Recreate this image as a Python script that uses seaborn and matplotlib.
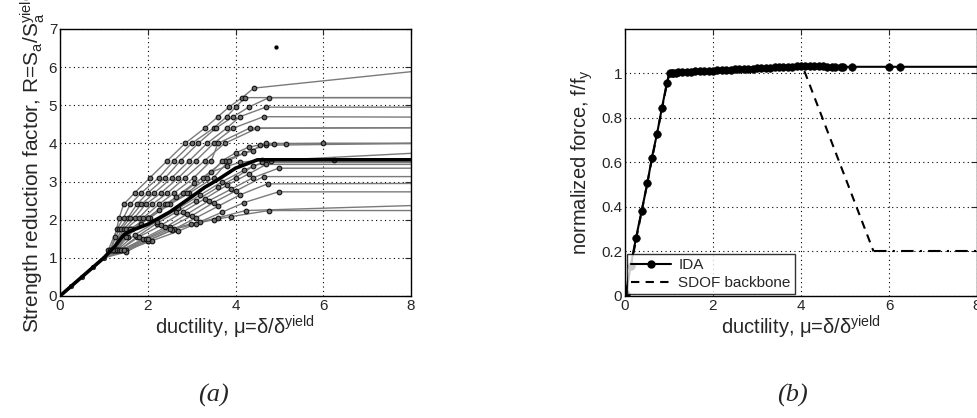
import numpy as np
import pandas as pd
import matplotlib
matplotlib.use("Agg")
import matplotlib.pyplot as plt
from matplotlib.lines import Line2D
import seaborn as sns

# ---- (a) IDA curves, strength reduction factor vs ductility ----
elastic_mu = [0.0, 0.25, 0.5, 0.75, 1.0]
elastic_R = [0.0, 0.25, 0.5, 0.75, 1.0]

ida_mu = [
    [1.15, 1.25, 1.35, 1.45, 1.7, 2.05, 2.45, 2.85, 3.3, 3.6, 3.85, 4.15, 4.42],
    [1.1, 1.3, 1.45, 1.6, 1.85, 2.25, 2.6, 3.0, 3.5, 3.8, 4.0, 4.22],
    [1.15, 1.35, 1.55, 1.75, 2.0, 2.4, 2.75, 3.15, 3.55, 3.95, 4.3, 4.76],
    [1.2, 1.4, 1.6, 1.85, 2.15, 2.55, 2.95, 3.35, 3.8, 4.1, 4.69],
    [1.2, 1.45, 1.7, 1.95, 2.3, 2.7, 3.1, 3.5, 3.95, 4.64],
    [1.25, 1.5, 1.8, 2.1, 2.45, 2.85, 3.3, 3.75, 4.5],
    [1.25, 1.55, 1.9, 2.25, 2.6, 3.05, 3.45, 3.6, 4.32],
    [1.3, 1.6, 2.0, 2.4, 2.8, 3.25, 3.75, 4.7, 4.88, 5.15, 6.0],
    [1.3, 1.65, 2.05, 2.5, 2.95, 3.5, 3.85, 4.2, 4.4, 4.55],
    [1.25, 1.6, 2.0, 2.45, 2.9, 3.35, 3.7, 4.0, 4.3, 4.7],
    [1.35, 1.75, 2.2, 2.65, 3.1, 3.6, 4.0, 4.4, 4.8],
    [1.2, 1.5, 1.85, 2.25, 2.65, 3.05, 3.45, 3.8, 4.1, 4.6, 6.25],
    [1.3, 1.7, 2.2, 2.7, 3.2, 3.7, 4.2, 4.6],
    [1.35, 1.8, 2.3, 2.8, 3.3, 3.8, 4.3, 4.7],
    [1.4, 1.9, 2.4, 2.9, 3.4, 3.9, 4.4, 4.98],
    [1.4, 1.95, 2.5, 3.0, 3.5, 4.0, 4.64],
    [1.45, 2.0, 2.6, 3.1, 3.6, 4.1, 4.73],
    [1.5, 2.1, 2.7, 3.2, 3.7, 4.2, 4.98],
    [1.5, 2.0, 2.55, 3.1, 3.5, 3.89, 4.76],
    [1.45, 2.0, 2.5, 2.99, 3.6, 4.23],
]
ida_R = [
    [1.2, 1.55, 2.05, 2.4, 2.7, 3.1, 3.55, 4.0, 4.4, 4.7, 4.95, 5.2, 5.45],
    [1.2, 1.75, 2.05, 2.4, 2.7, 3.1, 3.55, 4.0, 4.4, 4.7, 4.95, 5.2],
    [1.2, 1.75, 2.05, 2.4, 2.7, 3.1, 3.55, 4.0, 4.4, 4.7, 4.95, 5.2],
    [1.2, 1.75, 2.05, 2.4, 2.7, 3.1, 3.55, 4.0, 4.4, 4.7, 4.95],
    [1.2, 1.75, 2.05, 2.4, 2.7, 3.1, 3.55, 4.0, 4.4, 4.7],
    [1.2, 1.75, 2.05, 2.4, 2.7, 3.1, 3.55, 4.0, 4.4],
    [1.2, 1.55, 2.05, 2.4, 2.7, 3.1, 3.55, 4.0, 4.4],
    [1.2, 1.75, 2.05, 2.4, 2.7, 3.1, 3.55, 3.97, 3.98, 3.99, 4.0],
    [1.2, 1.75, 2.05, 2.4, 2.7, 3.1, 3.55, 3.75, 3.8, 3.95],
    [1.2, 1.75, 2.05, 2.4, 2.7, 3.1, 3.55, 3.75, 3.9, 4.0],
    [1.2, 1.55, 1.9, 2.2, 2.5, 2.85, 3.1, 3.4, 3.55],
    [1.2, 1.55, 1.9, 2.25, 2.6, 2.95, 3.25, 3.4, 3.5, 3.57, 3.57],
    [1.2, 1.6, 1.95, 2.3, 2.65, 3.0, 3.3, 3.5],
    [1.2, 1.55, 1.85, 2.2, 2.55, 2.9, 3.2, 3.45],
    [1.2, 1.5, 1.8, 2.15, 2.5, 2.8, 3.1, 3.35],
    [1.2, 1.5, 1.8, 2.1, 2.45, 2.75, 3.13],
    [1.2, 1.45, 1.75, 2.05, 2.35, 2.65, 2.94],
    [1.2, 1.45, 1.7, 1.95, 2.2, 2.45, 2.73],
    [1.15, 1.45, 1.73, 1.9, 2.0, 2.08, 2.24],
    [1.2, 1.5, 1.75, 1.89, 2.05, 2.24],
]
ida_tail_R = [5.88, 5.2, 5.2, 4.95, 4.69, 4.41, 4.41, 4.0, 4.0, 4.0,
              3.74, 3.57, 3.5, 3.45, 3.35, 3.13, 2.95, 2.73, 2.24, 2.37]
mu_max = 8.0

median_mu = [0.0, 1.0, 1.25, 1.45, 1.6, 2.0, 2.5, 3.0, 3.3, 3.6, 4.0, 4.5, 8.0]
median_R = [0.0, 1.0, 1.3, 1.6, 1.7, 1.88, 2.2, 2.6, 2.85, 3.05, 3.35, 3.57, 3.57]

outlier_mu = [4.93]
outlier_R = [6.52]

# ---- (b) static pushover (IDA) vs SDOF backbone ----
push_mu = [0.0, 0.02, 0.13, 0.25, 0.38, 0.51, 0.61, 0.73, 0.84, 0.95, 1.02,
           1.06, 1.1, 1.15, 1.2, 1.3, 1.4, 1.5, 1.6, 1.7, 1.8, 1.9, 2.0, 2.1,
           2.2, 2.3, 2.4, 2.5, 2.6, 2.7, 2.8, 2.9, 3.0, 3.1, 3.2, 3.3, 3.4,
           3.5, 3.6, 3.7, 3.8, 3.9, 4.0, 4.1, 4.2, 4.3, 4.4, 4.5, 4.6, 4.7,
           4.78, 4.9, 4.95, 5.15, 6.0, 6.25]
push_f = [0.0, 0.01, 0.135, 0.26, 0.383, 0.507, 0.62, 0.73, 0.845, 0.955, 1.0,
          1.002, 1.003, 1.004, 1.005, 1.006, 1.007, 1.008, 1.009, 1.01, 1.011,
          1.012, 1.013, 1.014, 1.015, 1.016, 1.017, 1.018, 1.019, 1.02, 1.021,
          1.022, 1.023, 1.024, 1.025, 1.026, 1.027, 1.028, 1.029, 1.03, 1.031,
          1.032, 1.033, 1.033, 1.033, 1.033, 1.032, 1.032, 1.031, 1.031, 1.03,
          1.03, 1.03, 1.03, 1.03, 1.03]
push_tail_f = 1.03

backbone_mu = [0.0, 1.0, 4.05, 5.65]
backbone_f = [0.0, 1.0, 1.025, 0.2]
residual_mu = [5.65, 8.0]
residual_f = [0.2, 0.2]

# build long tables for seaborn
line_rows = []
dot_rows = []
for i, (m, r) in enumerate(zip(ida_mu, ida_R)):
    xs = elastic_mu + m + [mu_max]
    ys = elastic_R + r + [ida_tail_R[i]]
    for k, (x, y) in enumerate(zip(xs, ys)):
        line_rows.append({"rec": i, "order": k, "mu": x, "R": y})
    for x, y in zip(m, r):
        dot_rows.append({"mu": x, "R": y})
lines_df = pd.DataFrame(line_rows)
dots_df = pd.DataFrame(dot_rows)

sns.set_style("white")
plt.rcParams["font.family"] = ["Liberation Sans", "DejaVu Sans"]
plt.rcParams["mathtext.fontset"] = "custom"
plt.rcParams["mathtext.rm"] = "Liberation Sans"
plt.rcParams["mathtext.it"] = "Liberation Sans"
plt.rcParams["xtick.direction"] = "in"
plt.rcParams["ytick.direction"] = "in"

fig = plt.figure(figsize=(9.78, 4.18), dpi=100)
ax1 = fig.add_axes([0.0613, 0.2919, 0.359, 0.6388])
ax2 = fig.add_axes([0.639, 0.2919, 0.36, 0.6388])

xlab = r"ductility, μ=δ/δ$^{\mathrm{yield}}$"

# panel (a)
sns.lineplot(data=lines_df, x="mu", y="R", units="rec", estimator=None, sort=False,
             color="#7a7a7a", linewidth=1.0, ax=ax1, legend=False)
sns.scatterplot(data=dots_df, x="mu", y="R", color="#6e6e6e", edgecolor="#111111",
                s=11, linewidth=0.8, ax=ax1, legend=False, zorder=3)
sns.scatterplot(x=elastic_mu[1:], y=elastic_R[1:], color="#333333", edgecolor="black",
                s=12, ax=ax1, legend=False, zorder=3)
sns.lineplot(x=median_mu, y=median_R, sort=False, color="black", linewidth=2.6,
             ax=ax1, zorder=4)
sns.scatterplot(x=outlier_mu, y=outlier_R, color="black", s=12, ax=ax1, legend=False)
ax1.set_xlim(0, 8)
ax1.set_ylim(0, 7)
ax1.set_xticks([0, 2, 4, 6, 8])
ax1.set_yticks(range(8))
ax1.set_xlabel(xlab, fontsize=14.5, labelpad=1)
ax1.set_ylabel(r"Strength reduction factor, R=S$_{\mathrm{a}}$/S$_{\mathrm{a}}^{\mathrm{yield}}$",
               fontsize=15, labelpad=1)

# panel (b)
ida_x = push_mu + [mu_max]
ida_y = push_f + [push_tail_f]
sns.lineplot(x=backbone_mu, y=backbone_f, sort=False, color="black", linewidth=1.5,
             linestyle=(0, (4, 3)), ax=ax2)
sns.lineplot(x=residual_mu, y=residual_f, sort=False, color="black", linewidth=1.5,
             linestyle=(0, (6, 3, 1, 3)), ax=ax2)
sns.lineplot(x=ida_x, y=ida_y, sort=False, color="black", linewidth=1.5, ax=ax2)
sns.scatterplot(x=push_mu, y=push_f, color="black", s=30, edgecolor="black",
                ax=ax2, legend=False, zorder=4)
ax2.set_xlim(0, 8)
ax2.set_ylim(0, 1.2)
ax2.set_xticks([0, 2, 4, 6, 8])
ax2.set_yticks([0, 0.2, 0.4, 0.6, 0.8, 1.0])
ax2.set_yticklabels(["0", "0.2", "0.4", "0.6", "0.8", "1"])
ax2.set_xlabel(xlab, fontsize=14.5, labelpad=1)
ax2.set_ylabel(r"normalized force, f/f$_{\mathrm{y}}$", fontsize=14.5, labelpad=4)

handles = [Line2D([], [], color="black", lw=1.5, marker="o", markersize=5),
           Line2D([], [], color="black", lw=1.5, linestyle=(0, (4, 3)))]
leg = ax2.legend(handles, ["IDA", "SDOF backbone"], loc="lower left", fontsize=11,
                 frameon=True, fancybox=False, edgecolor="black", borderpad=0.25,
                 handlelength=2.6, handletextpad=0.5, labelspacing=0.25,
                 borderaxespad=0.15)
leg.get_frame().set_linewidth(1.0)

for ax in (ax1, ax2):
    ax.grid(True, color="black", linestyle=(0, (1, 3)), linewidth=0.8)
    ax.tick_params(labelsize=11, top=True, right=True, length=4, width=0.8, pad=2)
    for sp in ax.spines.values():
        sp.set_color("black")
        sp.set_linewidth(1.0)

fig.text(0.218, 0.055, "(a)", fontsize=19, style="italic", family="Liberation Serif",
         ha="center", va="center")
fig.text(0.81, 0.055, "(b)", fontsize=19, style="italic", family="Liberation Serif",
         ha="center", va="center")

fig.savefig("out.png", dpi=100)
